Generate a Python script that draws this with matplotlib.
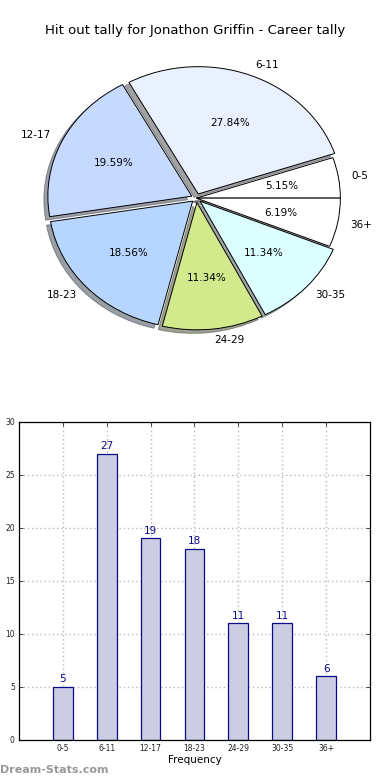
import matplotlib
matplotlib.use("Agg")
import matplotlib.pyplot as plt

categories = ["0-5", "6-11", "12-17", "18-23", "24-29", "30-35", "36+"]
counts = [5, 27, 19, 18, 11, 11, 6]
pie_colors = ["#ffffff", "#e9f1ff", "#c6d9ff", "#b6d6ff", "#d2ea8c", "#dcffff", "#ffffff"]
explode = [0.0, 0.035, 0.035, 0.035, 0.035, 0.035, 0.0]
yticks = [0, 5, 10, 15, 20, 25, 30]

fig = plt.figure(figsize=(3.9, 7.8), dpi=100)
fig.text(0.5, 0.9615, "Hit out tally for Jonathon Griffin - Career tally",
         ha="center", va="center", fontsize=9.5)

ax1 = fig.add_axes([0.042, 0.542, 0.923, 0.408])
wedges, texts, autotexts = ax1.pie(
    counts, labels=categories, colors=pie_colors, explode=explode,
    autopct="%1.2f%%", startangle=0, counterclock=True, shadow=True,
    labeldistance=1.09, pctdistance=0.6,
    wedgeprops=dict(edgecolor="black", linewidth=0.7),
    textprops=dict(fontsize=7.5))
ax1.set_aspect("auto")
ax1.set_xlim(-1.25, 1.25)
ax1.set_ylim(-1.25, 1.25)

ax2 = fig.add_axes([0.0487, 0.0513, 0.9, 0.408])
x = list(range(len(categories)))
bars = ax2.bar(x, counts, width=0.45, color="#cccce3", edgecolor="#0a0a8a",
               linewidth=0.9, zorder=2)
for xi, v in zip(x, counts):
    ax2.text(xi, v + 0.25, str(v), ha="center", va="bottom",
             fontsize=7.5, color="#0a0a8a", zorder=3)
ax2.set_xlim(-1, 7)
ax2.set_ylim(0, 30)
ax2.set_xticks(x)
ax2.set_xticklabels(categories, fontsize=5.5)
ax2.set_yticks(yticks)
ax2.set_yticklabels([str(t) for t in yticks], fontsize=5.5)
ax2.tick_params(direction="in", length=3, width=0.6, top=True, right=True,
                pad=3, colors="#222222")
ax2.grid(True, linestyle=(0, (1, 2)), color="#bbbbbb", linewidth=1.0, zorder=0)
ax2.set_axisbelow(True)
for s in ax2.spines.values():
    s.set_linewidth(0.9)
ax2.set_xlabel("Frequency", fontsize=7.5, labelpad=1)
ax2.set_ylabel("Stat count tally", fontsize=7.5, labelpad=6)

fig.text(0.0, 0.0128, "Dream-Stats.com", ha="left", va="center",
         fontsize=8, color="#999999", fontweight="bold")

fig.savefig("out.png", dpi=100)
